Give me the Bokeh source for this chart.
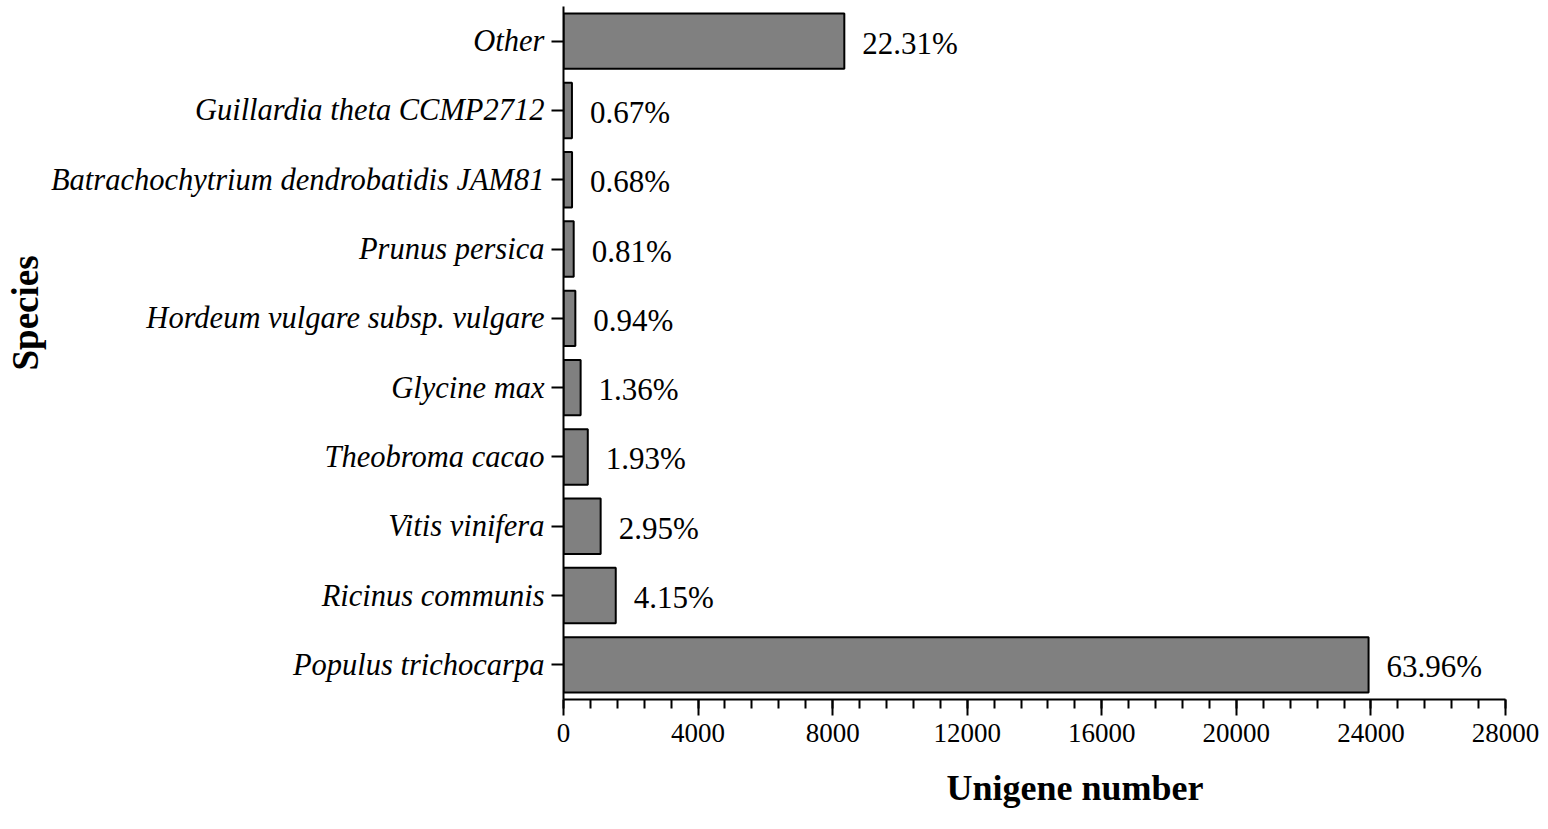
from bokeh.plotting import figure
from bokeh.models import FactorRange, Range1d, SingleIntervalTicker, ColumnDataSource, Title
from bokeh.core.properties import value
from bokeh.embed import file_html
from bokeh.resources import INLINE

species = ["Populus trichocarpa", "Ricinus communis", "Vitis vinifera", "Theobroma cacao",
           "Glycine max", "Hordeum vulgare subsp. vulgare", "Prunus persica",
           "Batrachochytrium dendrobatidis JAM81", "Guillardia theta CCMP2712", "Other"]
unigenes = [23930, 1553, 1104, 722, 509, 352, 303, 254, 251, 8347]
percent_labels = ["63.96%", "4.15%", "2.95%", "1.93%", "1.36%", "0.94%", "0.81%",
                  "0.68%", "0.67%", "22.31%"]
x_ticks_interval = 4000

FONT = "Liberation Serif"

src = ColumnDataSource(dict(species=species, n=unigenes, lab=percent_labels))

p = figure(width=1540, height=829, output_backend="svg", toolbar_location=None,
           y_range=FactorRange(*species, range_padding=0), x_range=Range1d(0, 28000),
           min_border_left=563, min_border_right=35, min_border_top=6, min_border_bottom=130)

p.hbar(y="species", right="n", left=0, height=0.8, source=src,
       fill_color="#808080", line_color="black", line_width=2)
p.text(x="n", y="species", text="lab", source=src, x_offset=18, y_offset=2,
       text_font=value(FONT), text_font_size="31px", text_baseline="middle",
       text_align="left", text_color="black")

p.outline_line_color = None
p.xgrid.grid_line_color = None
p.ygrid.grid_line_color = None
p.background_fill_color = "white"
p.border_fill_color = "white"

xa = p.xaxis[0]
xa.ticker = SingleIntervalTicker(interval=x_ticks_interval, num_minor_ticks=5)
xa.axis_line_width = 2
xa.major_tick_line_width = 2
xa.minor_tick_line_width = 2
xa.major_tick_out = 16
xa.major_tick_in = 0
xa.minor_tick_out = 9
xa.minor_tick_in = 0
xa.major_label_standoff = 8
xa.major_label_text_font = FONT
xa.major_label_text_font_size = "27px"
xa.major_label_text_color = "black"

ya = p.yaxis[0]
ya.axis_line_width = 2
ya.major_tick_line_width = 2
ya.major_tick_out = 12
ya.major_tick_in = 0
ya.minor_tick_out = 0
ya.major_label_standoff = 7
ya.major_label_text_font = FONT
ya.major_label_text_font_style = "italic"
ya.major_label_text_font_size = "30.5px"
ya.major_label_text_color = "black"

x_title = Title(text="Unigene number", align="left", offset=383, standoff=42,
                text_font=FONT, text_font_style="bold", text_font_size="36px",
                text_color="black")
y_title = Title(text="Species", align="left", offset=329, standoff=3,
                text_font=FONT, text_font_style="bold", text_font_size="37px",
                text_color="black")
p.add_layout(x_title, "below")
p.add_layout(y_title, "left")

open("out.html", "w").write(file_html(p, INLINE))
